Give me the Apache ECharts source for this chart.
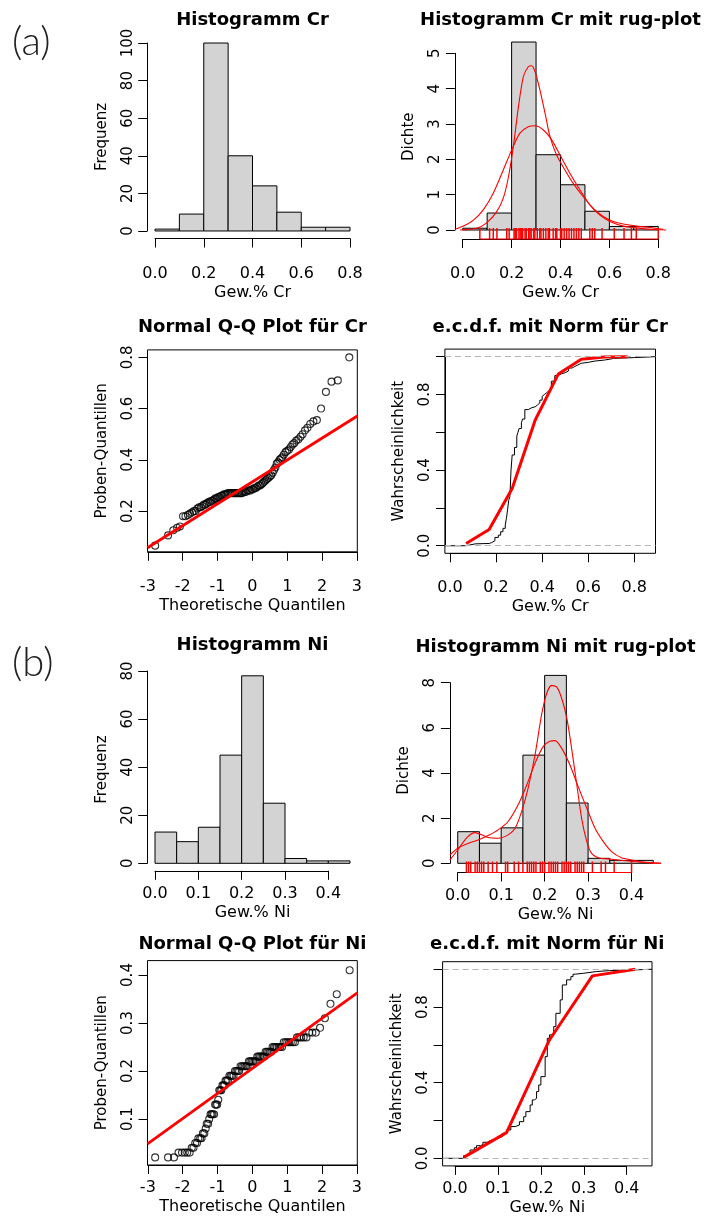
<!DOCTYPE html>
<html>
<head>
<meta charset="utf-8">
<script src="https://cdn.jsdelivr.net/npm/echarts@6/dist/echarts.min.js"></script>
<style>
html, body { margin: 0; padding: 0; background: #fff; }
#main { width: 709px; height: 1220px; }
</style>
</head>
<body>
<div id="main"></div>
<script>
// ---- values ----
var crBreaks = [0, 0.1, 0.2, 0.3, 0.4, 0.5, 0.6, 0.7, 0.8];
var crCounts = [1, 9, 100, 40, 24, 10, 2, 2];
var crDensity = [0.05, 0.48, 5.32, 2.13, 1.28, 0.53, 0.1, 0.1];

var niBreaks = [0, 0.05, 0.1, 0.15, 0.2, 0.25, 0.3, 0.35, 0.4, 0.45];
var niCounts = [13, 9, 15, 45, 78, 25, 2, 1, 1];
var niDensity = [1.4, 0.89, 1.57, 4.79, 8.32, 2.67, 0.22, 0.13, 0.13];

// smooth curves over the density histograms (x, density)
var crCurveWide = [[-0.032, 0.02], [0.003, 0.11], [0.044, 0.28], [0.084, 0.57], [0.125, 1.04], [0.166, 1.7],
  [0.2, 2.26], [0.234, 2.74], [0.268, 2.92], [0.296, 2.95], [0.33, 2.83], [0.364, 2.55], [0.398, 2.12],
  [0.439, 1.6], [0.48, 1.13], [0.52, 0.71], [0.561, 0.42], [0.602, 0.24], [0.657, 0.11], [0.711, 0.06],
  [0.766, 0.02], [0.832, 0.0]];
var crCurveKde = [[-0.011, 0.0], [0.057, 0.05], [0.098, 0.2], [0.139, 0.52], [0.166, 0.9], [0.187, 1.5],
  [0.207, 2.36], [0.228, 3.49], [0.248, 4.34], [0.268, 4.62], [0.282, 4.65], [0.296, 4.48], [0.316, 3.96],
  [0.337, 3.3], [0.357, 2.64], [0.384, 2.12], [0.418, 1.7], [0.452, 1.32], [0.493, 0.94], [0.534, 0.61],
  [0.575, 0.38], [0.616, 0.24], [0.657, 0.17], [0.711, 0.11], [0.766, 0.07], [0.82, 0.02]];
var niCurveWide = [[-0.018, 0.37], [0.0, 0.67], [0.025, 0.89], [0.048, 1.04], [0.07, 1.23], [0.093, 1.48],
  [0.116, 1.85], [0.139, 2.59], [0.159, 3.48], [0.178, 4.44], [0.197, 5.18], [0.212, 5.4], [0.224, 5.43],
  [0.239, 5.1], [0.258, 4.36], [0.277, 3.4], [0.297, 2.44], [0.316, 1.55], [0.335, 0.96], [0.354, 0.52],
  [0.377, 0.25], [0.4, 0.15], [0.431, 0.04], [0.468, 0.0]];
var niCurveKde = [[-0.018, 0.15], [0.0, 0.59], [0.021, 1.14], [0.04, 1.36], [0.055, 1.26], [0.07, 1.14],
  [0.093, 1.11], [0.116, 1.26], [0.132, 1.55], [0.147, 2.29], [0.162, 3.33], [0.178, 4.81], [0.193, 6.58],
  [0.205, 7.54], [0.216, 7.88], [0.228, 7.8], [0.239, 7.32], [0.251, 6.43], [0.262, 5.1], [0.274, 3.48],
  [0.285, 2.0], [0.297, 0.96], [0.308, 0.44], [0.323, 0.25], [0.354, 0.18], [0.392, 0.1], [0.431, 0.04],
  [0.468, 0.0]];

// rug marks
var crRug = [0.07, 0.11, 0.125, 0.14, 0.18, 0.19, 0.21, 0.215, 0.22, 0.23, 0.235, 0.24, 0.245, 0.255, 0.26,
  0.27, 0.275, 0.28, 0.29, 0.295, 0.305, 0.315, 0.32, 0.33, 0.34, 0.35, 0.355, 0.37, 0.38, 0.385, 0.4, 0.405,
  0.415, 0.425, 0.435, 0.445, 0.455, 0.465, 0.475, 0.485, 0.52, 0.53, 0.54, 0.57, 0.62, 0.66, 0.69, 0.71, 0.8];
var niRug = [0.02, 0.025, 0.03, 0.04, 0.045, 0.05, 0.055, 0.06, 0.07, 0.08, 0.09, 0.11, 0.115, 0.13, 0.14,
  0.15, 0.16, 0.165, 0.17, 0.175, 0.18, 0.19, 0.195, 0.2, 0.21, 0.215, 0.22, 0.225, 0.23, 0.24, 0.245, 0.25,
  0.255, 0.26, 0.27, 0.275, 0.28, 0.285, 0.29, 0.31, 0.33, 0.34, 0.36, 0.4];

// normal Q-Q points (theoretical, sample) and reference lines
var qqCr = [[-2.79, 0.065], [-2.42, 0.105], [-2.27, 0.125], [-2.16, 0.135], [-2.08, 0.14], [-1.99, 0.18],
  [-1.92, 0.18], [-1.85, 0.185], [-1.79, 0.19], [-1.73, 0.195], [-1.68, 0.2], [-1.63, 0.2], [-1.58, 0.21],
  [-1.53, 0.215], [-1.48, 0.215], [-1.44, 0.22], [-1.39, 0.225], [-1.35, 0.225], [-1.31, 0.23], [-1.26, 0.235],
  [-1.22, 0.235], [-1.18, 0.24], [-1.14, 0.24], [-1.1, 0.245], [-1.06, 0.25], [-1.02, 0.25], [-0.98, 0.255],
  [-0.94, 0.255], [-0.9, 0.26], [-0.86, 0.26], [-0.82, 0.265], [-0.78, 0.265], [-0.74, 0.265], [-0.7, 0.27],
  [-0.66, 0.27], [-0.62, 0.27], [-0.58, 0.27], [-0.54, 0.27], [-0.5, 0.27], [-0.46, 0.27], [-0.42, 0.27],
  [-0.38, 0.27], [-0.34, 0.27], [-0.3, 0.27], [-0.26, 0.275], [-0.22, 0.275], [-0.18, 0.275], [-0.14, 0.28],
  [-0.1, 0.28], [-0.06, 0.28], [-0.02, 0.285], [0.02, 0.285], [0.06, 0.29], [0.1, 0.29], [0.14, 0.295],
  [0.18, 0.3], [0.22, 0.3], [0.26, 0.305], [0.3, 0.31], [0.34, 0.315], [0.38, 0.32], [0.42, 0.325],
  [0.46, 0.33], [0.5, 0.335], [0.54, 0.34], [0.58, 0.35], [0.62, 0.36], [0.66, 0.37], [0.7, 0.385],
  [0.74, 0.39], [0.78, 0.4], [0.82, 0.405], [0.86, 0.41], [0.9, 0.42], [0.95, 0.43], [1.0, 0.435],
  [1.05, 0.44], [1.1, 0.45], [1.15, 0.46], [1.2, 0.465], [1.26, 0.475], [1.32, 0.48], [1.38, 0.49],
  [1.44, 0.5], [1.51, 0.515], [1.58, 0.525], [1.66, 0.54], [1.75, 0.55], [1.85, 0.555], [1.97, 0.6],
  [2.11, 0.665], [2.27, 0.705], [2.45, 0.71], [2.78, 0.8]];
var qqCrLine = [[-3.01, 0.057], [3.01, 0.571]];

var qqNi = [[-2.79, 0.02], [-2.42, 0.02], [-2.25, 0.02], [-2.12, 0.03], [-2.02, 0.03], [-1.94, 0.03],
  [-1.87, 0.03], [-1.8, 0.03], [-1.74, 0.04], [-1.69, 0.04], [-1.64, 0.05], [-1.59, 0.05], [-1.55, 0.06],
  [-1.5, 0.06], [-1.46, 0.06], [-1.42, 0.07], [-1.38, 0.07], [-1.34, 0.08], [-1.31, 0.09], [-1.27, 0.09],
  [-1.24, 0.1], [-1.2, 0.11], [-1.17, 0.11], [-1.14, 0.11], [-1.1, 0.11], [-1.07, 0.13], [-1.04, 0.13],
  [-1.01, 0.13], [-0.98, 0.14], [-0.95, 0.16], [-0.92, 0.16], [-0.89, 0.16], [-0.86, 0.17], [-0.83, 0.17],
  [-0.8, 0.17], [-0.77, 0.18], [-0.74, 0.18], [-0.7, 0.18], [-0.66, 0.19], [-0.62, 0.19], [-0.58, 0.19],
  [-0.54, 0.19], [-0.5, 0.2], [-0.46, 0.2], [-0.42, 0.2], [-0.38, 0.2], [-0.34, 0.21], [-0.3, 0.21],
  [-0.26, 0.21], [-0.22, 0.21], [-0.18, 0.21], [-0.14, 0.21], [-0.1, 0.22], [-0.06, 0.22], [-0.02, 0.22],
  [0.02, 0.22], [0.06, 0.22], [0.1, 0.22], [0.14, 0.23], [0.18, 0.23], [0.22, 0.23], [0.26, 0.23],
  [0.3, 0.23], [0.34, 0.23], [0.38, 0.24], [0.42, 0.24], [0.46, 0.24], [0.5, 0.24], [0.54, 0.24],
  [0.58, 0.25], [0.62, 0.25], [0.66, 0.25], [0.7, 0.25], [0.75, 0.25], [0.8, 0.25], [0.85, 0.25],
  [0.9, 0.26], [0.95, 0.26], [1.0, 0.26], [1.05, 0.26], [1.1, 0.26], [1.16, 0.26], [1.22, 0.26],
  [1.28, 0.27], [1.34, 0.27], [1.4, 0.27], [1.47, 0.27], [1.55, 0.27], [1.63, 0.28], [1.72, 0.28],
  [1.82, 0.28], [1.94, 0.29], [2.08, 0.31], [2.24, 0.34], [2.42, 0.36], [2.79, 0.41]];
var qqNiLine = [[-3.01, 0.048], [3.01, 0.363]];

// empirical distribution steps (x, F) and fitted normal cdf vertices
var ecdfCr = [[0.07, 0.01], [0.11, 0.012], [0.17, 0.016], [0.18, 0.026], [0.195, 0.044], [0.21, 0.056],
  [0.22, 0.074], [0.23, 0.092], [0.24, 0.11], [0.245, 0.145], [0.25, 0.19], [0.255, 0.24], [0.26, 0.26],
  [0.265, 0.4], [0.27, 0.48], [0.28, 0.52], [0.29, 0.58], [0.295, 0.6], [0.3, 0.62], [0.31, 0.65],
  [0.315, 0.67], [0.325, 0.72], [0.34, 0.73], [0.355, 0.735], [0.37, 0.745], [0.38, 0.755], [0.39, 0.77],
  [0.4, 0.79], [0.405, 0.8], [0.41, 0.81], [0.42, 0.82], [0.43, 0.83], [0.44, 0.87], [0.455, 0.9],
  [0.47, 0.91], [0.485, 0.915], [0.5, 0.925], [0.515, 0.94], [0.53, 0.947], [0.54, 0.956], [0.555, 0.965],
  [0.57, 0.97], [0.6, 0.977], [0.63, 0.982], [0.67, 0.988], [0.7, 0.991], [0.71, 0.995], [0.8, 1.0]];
var normCdfCr = [[0.07, 0.012], [0.17, 0.086], [0.27, 0.303], [0.37, 0.665], [0.47, 0.908], [0.57, 0.986],
  [0.67, 0.998], [0.77, 1.0]];

var ecdfNi = [[0.02, 0.014], [0.03, 0.026], [0.035, 0.044], [0.045, 0.056], [0.05, 0.067], [0.06, 0.074],
  [0.065, 0.085], [0.075, 0.092], [0.08, 0.1], [0.09, 0.106], [0.1, 0.115], [0.11, 0.132], [0.12, 0.15],
  [0.13, 0.168], [0.14, 0.176], [0.15, 0.194], [0.16, 0.22], [0.165, 0.247], [0.175, 0.282], [0.18, 0.309],
  [0.185, 0.317], [0.19, 0.353], [0.195, 0.388], [0.2, 0.432], [0.21, 0.538], [0.215, 0.635], [0.22, 0.653],
  [0.23, 0.697], [0.235, 0.767], [0.245, 0.838], [0.25, 0.917], [0.26, 0.944], [0.27, 0.961], [0.275, 0.974],
  [0.28, 0.979], [0.3, 0.988], [0.33, 0.993], [0.36, 0.996], [0.41, 1.0]];
var normCdfNi = [[0.02, 0.005], [0.12, 0.136], [0.22, 0.626], [0.32, 0.965], [0.42, 1.0]];

var ecdfYLabels = [0, 0.4, 0.8];

// ---- panel layout: plot box in pixels, user ranges, tick ranges ----
var panels = [
  { box: [147.2, 35.5, 357.8, 238.5], xr: [-0.032, 0.832], yr: [-4, 104], xt: [0, 0.8, 0.2], yt: [0, 100, 20],
    xd: 1, yd: 0, frame: false, row: 0, title: 'Histogramm Cr', ty: 20, xName: 'Gew.% Cr', yName: 'Frequenz' },
  { box: [454.9, 34.6, 666.1, 239], xr: [-0.032, 0.832], yr: [-0.255, 5.53], xt: [0, 0.8, 0.2], yt: [0, 5, 1],
    xd: 1, yd: 0, frame: false, row: 0, title: 'Histogramm Cr mit rug-plot', ty: 20, xName: 'Gew.% Cr', yName: 'Dichte' },
  { box: [147.5, 349.9, 357.3, 551.8], xr: [-3.01, 3.01], yr: [0.041, 0.829], xt: [-3, 3, 1], yt: [0.2, 0.8, 0.2],
    xd: 0, yd: 1, frame: true, row: 0, title: 'Normal Q-Q Plot für Cr', ty: 327,
    xName: 'Theoretische Quantilen', yName: 'Proben-Quantillen' },
  { box: [444.9, 349.1, 655.5, 553.3], xr: [-0.022, 0.892], yr: [-0.04, 1.04], xt: [0, 0.8, 0.2], yt: [0, 1, 0.2],
    xd: 1, yd: 1, frame: true, row: 0, ecdf: true, title: 'e.c.d.f. mit Norm für Cr', ty: 327,
    xName: 'Gew.% Cr', yName: 'Wahrscheinlichkeit' },
  { box: [147.2, 668.3, 357.8, 870.8], xr: [-0.018, 0.468], yr: [-3.12, 81.12], xt: [0, 0.4, 0.1], yt: [0, 80, 20],
    xd: 1, yd: 0, frame: false, row: 1, title: 'Histogramm Ni', ty: 645, xName: 'Gew.% Ni', yName: 'Frequenz' },
  { box: [449.9, 668.4, 661.1, 872.5], xr: [-0.018, 0.468], yr: [-0.407, 8.63], xt: [0, 0.4, 0.1], yt: [0, 8, 2],
    xd: 1, yd: 0, frame: false, row: 1, title: 'Histogramm Ni mit rug-plot', ty: 647, xName: 'Gew.% Ni', yName: 'Dichte' },
  { box: [147.5, 960.6, 357.3, 1165], xr: [-3.01, 3.01], yr: [0.0042, 0.43], xt: [-3, 3, 1], yt: [0.1, 0.4, 0.1],
    xd: 0, yd: 1, frame: true, row: 1, title: 'Normal Q-Q Plot für Ni', ty: 944,
    xName: 'Theoretische Quantilen', yName: 'Proben-Quantillen' },
  { box: [442.6, 961.7, 652, 1165.9], xr: [-0.029, 0.459], yr: [-0.04, 1.04], xt: [0, 0.4, 0.1], yt: [0, 1, 0.2],
    xd: 1, yd: 1, frame: true, row: 1, ecdf: true, title: 'e.c.d.f. mit Norm für Ni', ty: 944,
    xName: 'Gew.% Ni', yName: 'Wahrscheinlichkeit' }
];

var FONT = 'DejaVu Sans';
var labelMargin = [27, 15];
var nameGapX = [46, 34];

var grids = [], xAxes = [], yAxes = [], titles = [];

panels.forEach(function(p, i) {
  var L = p.box[0], T = p.box[1], R = p.box[2], B = p.box[3];
  var W = R - L, H = B - T;
  // plot region (data lives here)
  grids.push({ left: L, top: T, width: W, height: H, show: p.frame, borderColor: '#000', borderWidth: 1,
    backgroundColor: 'rgba(0,0,0,0)', outerBoundsMode: 'none' });
  xAxes.push({ gridIndex: 2 * i, type: 'value', min: p.xr[0], max: p.xr[1],
    axisLine: { show: false, onZero: false }, axisTick: { show: false }, axisLabel: { show: false },
    splitLine: { show: false },
    name: p.xName, nameLocation: 'middle', nameGap: nameGapX[p.row], nameMoveOverlap: false,
    nameTextStyle: { fontFamily: FONT, fontSize: 16, color: '#000' } });
  yAxes.push({ gridIndex: 2 * i, type: 'value', min: p.yr[0], max: p.yr[1],
    axisLine: { show: false, onZero: false }, axisTick: { show: false }, axisLabel: { show: false },
    splitLine: { show: false },
    name: p.yName, nameLocation: 'middle', nameGap: 38, nameMoveOverlap: false,
    nameTextStyle: { fontFamily: FONT, fontSize: 15, color: '#000' } });

  // tick span (R draws the axis line only from first to last tick)
  var tl = L + (p.xt[0] - p.xr[0]) / (p.xr[1] - p.xr[0]) * W;
  var tr = L + (p.xt[1] - p.xr[0]) / (p.xr[1] - p.xr[0]) * W;
  var tt = T + (p.yr[1] - p.yt[1]) / (p.yr[1] - p.yr[0]) * H;
  var tb = T + (p.yr[1] - p.yt[0]) / (p.yr[1] - p.yr[0]) * H;
  grids.push({ left: tl, top: tt, width: tr - tl, height: tb - tt, show: false, outerBoundsMode: 'none' });
  xAxes.push({ gridIndex: 2 * i + 1, type: 'value', position: 'bottom', offset: B - tb,
    min: p.xt[0], max: p.xt[1], interval: p.xt[2],
    axisLine: { show: true, onZero: false, lineStyle: { color: '#000', width: 1 } },
    axisTick: { show: true, inside: false, length: 9, lineStyle: { color: '#000', width: 1 } },
    splitLine: { show: false },
    axisLabel: { show: true, margin: labelMargin[p.row], fontFamily: FONT, fontSize: 16, color: '#000',
      showMinLabel: true, showMaxLabel: true,
      formatter: function(v) { return v.toFixed(p.xd); } } });
  yAxes.push({ gridIndex: 2 * i + 1, type: 'value', position: 'left', offset: tl - L,
    min: p.yt[0], max: p.yt[1], interval: p.yt[2],
    axisLine: { show: true, onZero: false, lineStyle: { color: '#000', width: 1 } },
    axisTick: { show: true, inside: false, length: 9, lineStyle: { color: '#000', width: 1 } },
    splitLine: { show: false },
    axisLabel: { show: true, rotate: 90, margin: 12, fontFamily: FONT, fontSize: 15, color: '#000',
      showMinLabel: true, showMaxLabel: true,
      formatter: function(v) {
        if (p.ecdf) {
          var hit = ecdfYLabels.some(function(s) { return Math.abs(s - v) < 1e-6; });
          if (!hit) return '';
        }
        return v.toFixed(p.yd);
      } } });

  titles.push({ text: p.title, left: (L + R) / 2, top: p.ty, textAlign: 'center', textVerticalAlign: 'middle',
    padding: 0, textStyle: { fontFamily: FONT, fontWeight: 'bold', fontSize: 18, color: '#000' } });
});

function histSeries(i, breaks, heights) {
  return {
    type: 'custom', xAxisIndex: 2 * i, yAxisIndex: 2 * i, silent: true,
    data: heights.map(function(h, k) { return [breaks[k], breaks[k + 1], h]; }),
    renderItem: function(params, api) {
      var a = api.coord([api.value(0), 0]);
      var b = api.coord([api.value(1), api.value(2)]);
      return { type: 'rect', shape: { x: a[0], y: b[1], width: b[0] - a[0], height: a[1] - b[1] },
        style: { fill: '#d3d3d3', stroke: '#000', lineWidth: 1 } };
    }
  };
}

function curveSeries(i, pts) {
  return { type: 'line', xAxisIndex: 2 * i, yAxisIndex: 2 * i, data: pts, showSymbol: false, symbol: 'none',
    smooth: 0.25, silent: true, lineStyle: { color: '#ff0000', width: 1.1 } };
}

function rugSeries(i, xs) {
  var y0 = panels[i].yr[0];
  return [{
    type: 'custom', xAxisIndex: 2 * i, yAxisIndex: 2 * i, silent: true, clip: false,
    data: xs.map(function(v) { return [v]; }),
    renderItem: function(params, api) {
      var a = api.coord([api.value(0), y0]);
      return { type: 'line', shape: { x1: a[0], y1: a[1], x2: a[0], y2: a[1] - 11 },
        style: { stroke: '#ff0000', lineWidth: 1.5 } };
    }
  }, {
    type: 'line', xAxisIndex: 2 * i, yAxisIndex: 2 * i, silent: true, clip: false, symbol: 'none',
    data: [[Math.min.apply(null, xs), y0], [Math.max.apply(null, xs), y0]],
    lineStyle: { color: '#ff0000', width: 1.2 }
  }];
}

function qqSeries(i, pts, line) {
  return [{
    type: 'scatter', xAxisIndex: 2 * i, yAxisIndex: 2 * i, data: pts, symbol: 'circle', symbolSize: 7,
    silent: true, itemStyle: { color: 'rgba(0,0,0,0)', borderColor: '#000', borderWidth: 1.1 }
  }, {
    type: 'line', xAxisIndex: 2 * i, yAxisIndex: 2 * i, data: line, symbol: 'none', silent: true,
    lineStyle: { color: '#ff0000', width: 2.8 }
  }];
}

function ecdfSeries(i, steps, norm) {
  var p = panels[i];
  var pts = [[p.xr[0], 0]].concat(steps).concat([[p.xr[1], 1]]);
  return [{
    type: 'line', xAxisIndex: 2 * i, yAxisIndex: 2 * i, data: pts, step: 'end', symbol: 'none', silent: true,
    lineStyle: { color: '#000', width: 1 },
    markLine: { silent: true, symbol: ['none', 'none'], label: { show: false },
      lineStyle: { color: '#b3b3b3', type: [6, 4], width: 1 },
      data: [{ yAxis: 0 }, { yAxis: 1 }] }
  }, {
    type: 'line', xAxisIndex: 2 * i, yAxisIndex: 2 * i, data: norm, symbol: 'none', silent: true,
    lineStyle: { color: '#ff0000', width: 3 }
  }];
}

var series = [].concat(
  histSeries(0, crBreaks, crCounts),
  histSeries(1, crBreaks, crDensity),
  curveSeries(1, crCurveWide),
  curveSeries(1, crCurveKde),
  rugSeries(1, crRug),
  qqSeries(2, qqCr, qqCrLine),
  ecdfSeries(3, ecdfCr, normCdfCr),
  histSeries(4, niBreaks, niCounts),
  histSeries(5, niBreaks, niDensity),
  curveSeries(5, niCurveWide),
  curveSeries(5, niCurveKde),
  rugSeries(5, niRug),
  qqSeries(6, qqNi, qqNiLine),
  ecdfSeries(7, ecdfNi, normCdfNi)
);

var chart = echarts.init(document.getElementById('main'));
chart.setOption({
  animation: false,
  backgroundColor: '#fff',
  textStyle: { fontFamily: FONT },
  title: titles,
  grid: grids,
  xAxis: xAxes,
  yAxis: yAxes,
  series: series,
  graphic: [
    { type: 'text', left: 12, top: 22, style: { text: '(a)', fontFamily: 'Lato', fontWeight: 300, fontSize: 40, fill: '#222' } },
    { type: 'text', left: 12, top: 643, style: { text: '(b)', fontFamily: 'Lato', fontWeight: 300, fontSize: 40, fill: '#222' } }
  ]
});
</script>
</body>
</html>
